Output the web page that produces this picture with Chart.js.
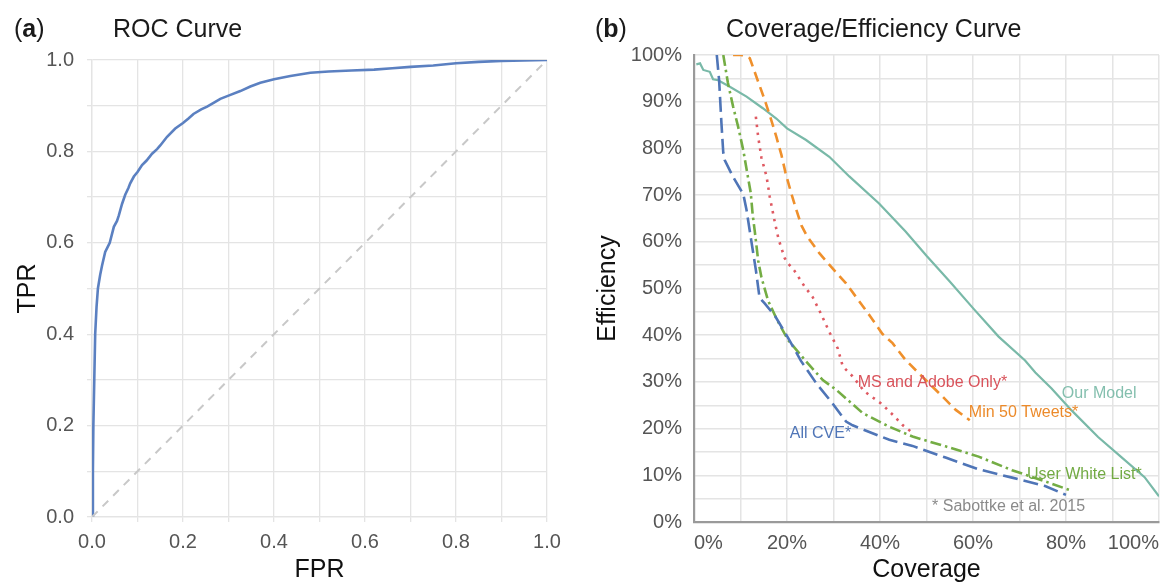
<!DOCTYPE html>
<html>
<head>
<meta charset="utf-8">
<script src="https://cdn.jsdelivr.net/npm/chart.js@4.4.1/dist/chart.umd.min.js"></script>
<style>
    html, body { margin: 0; padding: 0; background: #fff; }
    #wrap { position: relative; width: 1168px; height: 583px; overflow: hidden; }
    #rocCanvas { position: absolute; left: 0; top: 0; }
    #covCanvas { position: absolute; left: 580px; top: 0; }
</style>
</head>
<body>
<div id="wrap">
    <canvas id="rocCanvas" width="580" height="583"></canvas>
    <canvas id="covCanvas" width="588" height="583"></canvas>
</div>
<script>
// ---- (a) ROC curve ----
const rocFpr = [0, 0.002, 0.003, 0.005, 0.007, 0.010, 0.013, 0.018, 0.022, 0.029, 0.034, 0.039, 0.048, 0.055, 0.059,
    0.066, 0.073, 0.080, 0.084, 0.092, 0.10, 0.11, 0.12, 0.132, 0.143, 0.15, 0.165, 0.183, 0.20, 0.212, 0.223, 0.24,
    0.253, 0.27, 0.282, 0.30, 0.326, 0.348, 0.37, 0.40, 0.436, 0.48, 0.52, 0.57, 0.62, 0.66, 0.70, 0.75, 0.80, 0.85,
    0.90, 0.95, 1.0];
const rocTpr = [0, 0.10, 0.20, 0.30, 0.40, 0.46, 0.50, 0.53, 0.55, 0.58, 0.59, 0.60, 0.635, 0.648, 0.66,
    0.685, 0.705, 0.72, 0.73, 0.745, 0.755, 0.77, 0.78, 0.795, 0.805, 0.813, 0.832, 0.85, 0.862, 0.872, 0.882, 0.892,
    0.898, 0.908, 0.915, 0.922, 0.932, 0.942, 0.95, 0.958, 0.965, 0.972, 0.975, 0.977, 0.979, 0.982, 0.985, 0.988, 0.993, 0.996,
    0.998, 0.999, 1.0];
const chanceFpr = [0, 1];
const chanceTpr = [0, 1];
const rocTickLabels = ["0.0", "0.2", "0.4", "0.6", "0.8", "1.0"];

// ---- (b) coverage / efficiency (percent) ----
const ourModelCov = [0.5, 1.3, 2.0, 3.4, 4.1, 5.2, 7.7, 11.3, 14.8, 17.7, 20.0, 24.1, 29.1, 33.4, 39.8, 45.5, 50, 55, 60,
    65.5, 71.2, 73.4, 76.9, 81.2, 86.9, 91.9, 96.9, 100];
const ourModelEff = [98.0, 98.2, 96.8, 96.4, 94.8, 94.6, 93.2, 91.1, 88.6, 86.4, 84.3, 81.8, 78.2, 74.0, 68.2, 62.2, 57.0, 51.5, 45.8,
    39.7, 34.6, 32.0, 28.6, 23.9, 18.2, 13.9, 9.6, 5.5];

const allCveCov = [4.9, 5.4, 5.9, 6.3, 6.6, 8.4, 10.6, 11.3, 12.2, 13.3, 14.1, 15.2, 17.5, 20.2, 23.0, 26.3, 29.8, 32.7, 34.1,
    42.0, 47.0, 54.1, 61.2, 68.4, 75.5, 80.0];
const allCveEff = [100, 94.6, 85.4, 79.0, 77.5, 73.9, 70.2, 66.8, 61.0, 54.0, 48.0, 46.8, 44.0, 39.5, 34.5, 29.7, 25.4, 21.5, 20.7,
    17.6, 16.3, 13.8, 11.3, 9.5, 7.7, 5.8];

const whiteListCov = [6.3, 7.3, 8.4, 9.5, 10.6, 11.4, 12.2, 12.6, 13.1, 13.8, 14.5, 15.9, 17.7, 20.2, 24.0, 27.7, 30.6, 36.3,
    42.0, 47.0, 54.1, 61.2, 68.4, 75.5, 81.2];
const whiteListEff = [100, 94.0, 89.0, 84.6, 79.6, 75.0, 70.5, 66.0, 62.0, 56.0, 52.4, 47.5, 43.6, 39.0, 34.5, 30.4, 28.3, 23.3,
    20.4, 18.3, 16.2, 14.0, 11.1, 8.7, 6.7];

const msAdobeCov = [13.3, 13.8, 14.5, 15.6, 16.3, 17.3, 18.2, 19.5, 20.2, 21.6, 23.8, 25.5, 27.3, 29.1, 30.9, 32.0, 34.1, 36.6,
    40.2, 42.0, 43.4, 44.8, 46.6];
const msAdobeEff = [86.8, 82.5, 78.0, 74.0, 69.6, 64.6, 60.5, 56.5, 55.4, 53.8, 50.4, 48.2, 44.6, 40.7, 37.2, 33.3, 31.2, 28.0,
    25.4, 23.7, 22.3, 20.8, 19.4];

const min50Cov = [8.4, 10.2, 12.0, 13.4, 15.2, 16.6, 17.7, 18.8, 19.7, 20.8, 21.8, 23.1, 24.3, 27.0, 29.8, 32.7, 35.5, 38.0,
    40.5, 42.7, 45.5, 49.1, 52.7, 56.3, 59.3];
const min50Eff = [100, 100, 99.3, 95.4, 90.4, 86.1, 82.5, 78.6, 74.7, 70.8, 67.5, 63.5, 61.2, 57.5, 54.3, 51.1, 47.3, 43.9,
    40.3, 38.3, 34.7, 31.1, 27.6, 24.0, 21.8];

const covTickLabels = ["0%", "20%", "40%", "60%", "80%", "100%"];
const effTickLabels = ["0%", "10%", "20%", "30%", "40%", "50%", "60%", "70%", "80%", "90%", "100%"];

const FONT = '"Liberation Sans", Arial, Helvetica, sans-serif';
Chart.defaults.font.family = FONT;
Chart.defaults.color = "#555";

function pairs(xs, ys) {
    return xs.map((x, i) => ({ x: x, y: ys[i] }));
}

function labelFor(list, value) {
    const hit = list.find(l => Math.abs(parseFloat(l) - value) < 1e-6);
    return hit === undefined ? "" : hit;
}

// panel letter + title drawn on top of each canvas
const panelTitle = {
    id: "panelTitle",
    afterDraw(chart, args, opts) {
        const ctx = chart.ctx;
        ctx.save();
        ctx.textBaseline = "middle";
        ctx.fillStyle = "#1a1a1a";
        let x = opts.x;
        ctx.font = "25px " + FONT;
        ctx.fillText("(", x, opts.y);
        x += ctx.measureText("(").width;
        ctx.font = "bold 25px " + FONT;
        ctx.fillText(opts.letter, x, opts.y);
        x += ctx.measureText(opts.letter).width;
        ctx.font = "25px " + FONT;
        ctx.fillText(")", x, opts.y);
        ctx.fillText(opts.title, opts.titleX, opts.y);
        ctx.restore();
    }
};

// series names written next to the curves
const curveLabels = {
    id: "curveLabels",
    afterDatasetsDraw(chart, args, opts) {
        if (!opts.items) return;
        const ctx = chart.ctx;
        const xs = chart.scales.x;
        const ys = chart.scales.y;
        ctx.save();
        ctx.font = "16px " + FONT;
        ctx.textBaseline = "middle";
        opts.items.forEach(it => {
            ctx.fillStyle = it.color;
            ctx.fillText(it.text, xs.getPixelForValue(it.at[0]), ys.getPixelForValue(it.at[1]));
        });
        ctx.restore();
    }
};

const lightGrid = "#e4e4e4";

// (a)
new Chart(document.getElementById("rocCanvas"), {
    type: "scatter",
    data: {
        datasets: [
            {
                data: pairs(chanceFpr, chanceTpr),
                showLine: true,
                borderColor: "#c8c8c8",
                borderWidth: 2,
                borderDash: [8, 7],
                pointRadius: 0
            },
            {
                data: pairs(rocFpr, rocTpr),
                showLine: true,
                borderColor: "#5b80c1",
                borderWidth: 2.6,
                pointRadius: 0,
                tension: 0
            }
        ]
    },
    options: {
        responsive: false,
        animation: false,
        layout: { padding: { left: 0, right: 33, top: 60, bottom: 0 }, autoPadding: false },
        plugins: {
            legend: { display: false },
            tooltip: { enabled: false },
            panelTitle: { x: 14, y: 30, letter: "a", title: "ROC Curve", titleX: 113 }
        },
        scales: {
            x: {
                type: "linear",
                min: 0,
                max: 1,
                afterFit(scale) { scale.height = 66; },
                ticks: {
                    stepSize: 0.1,
                    autoSkip: false,
                    maxRotation: 0,
                    padding: 8,
                    font: { size: 20 },
                    color: "#555",
                    callback: v => labelFor(rocTickLabels, v)
                },
                grid: { color: lightGrid, lineWidth: 1.3, tickLength: 5, tickColor: lightGrid },
                border: { color: lightGrid, width: 1.3 },
                title: {
                    display: true,
                    text: "FPR",
                    color: "#111",
                    font: { size: 25, lineHeight: 1 },
                    padding: { top: 0, bottom: 0 }
                }
            },
            y: {
                type: "linear",
                min: 0,
                max: 1,
                afterFit(scale) { scale.width = 92; },
                ticks: {
                    stepSize: 0.1,
                    autoSkip: false,
                    padding: 13,
                    font: { size: 20 },
                    color: "#555",
                    callback: v => labelFor(rocTickLabels, v)
                },
                grid: { color: lightGrid, lineWidth: 1.3, tickLength: 5, tickColor: lightGrid },
                border: { color: lightGrid, width: 1.3 },
                title: {
                    display: true,
                    text: "TPR",
                    color: "#111",
                    font: { size: 25 },
                    padding: { top: 13, bottom: 0 }
                }
            }
        }
    },
    plugins: [panelTitle]
});

// (b)
function curve(xs, ys, color, dash, width) {
    return {
        data: pairs(xs, ys),
        showLine: true,
        borderColor: color,
        borderWidth: width,
        borderDash: dash,
        pointRadius: 0,
        tension: 0
    };
}

new Chart(document.getElementById("covCanvas"), {
    type: "scatter",
    data: {
        datasets: [
            curve(allCveCov, allCveEff, "#4f75b7", [15, 6], 2.6),
            curve(whiteListCov, whiteListEff, "#74ad44", [11, 4, 2.5, 4], 2.6),
            curve(msAdobeCov, msAdobeEff, "#df5a62", [2.5, 5.5], 2.6),
            curve(min50Cov, min50Eff, "#ef902c", [10, 6], 2.6),
            curve(ourModelCov, ourModelEff, "#79b9a8", [], 2.2)
        ]
    },
    options: {
        responsive: false,
        animation: false,
        layout: { padding: { left: 0, right: 7, top: 55, bottom: 0 }, autoPadding: false },
        plugins: {
            legend: { display: false },
            tooltip: { enabled: false },
            panelTitle: { x: 15, y: 30, letter: "b", title: "Coverage/Efficiency Curve", titleX: 146 },
            curveLabels: {
                items: [
                    { text: "MS and Adobe Only*", at: [35.2, 29.8], color: "#d9535b" },
                    { text: "Min 50 Tweets*", at: [59.1, 23.4], color: "#ec8a2a" },
                    { text: "Our Model", at: [79.1, 27.5], color: "#84bfae" },
                    { text: "User White List*", at: [71.6, 10.2], color: "#72aa43" },
                    { text: "All CVE*", at: [20.6, 18.9], color: "#4f75b7" },
                    { text: "* Sabottke et al. 2015", at: [51.2, 3.4], color: "#8a8a8a" }
                ]
            }
        },
        scales: {
            x: {
                type: "linear",
                min: 0,
                max: 100,
                afterFit(scale) { scale.height = 61; },
                ticks: {
                    stepSize: 10,
                    autoSkip: false,
                    maxRotation: 0,
                    align: "inner",
                    padding: 9,
                    font: { size: 20 },
                    color: "#555",
                    callback: v => labelFor(covTickLabels, v)
                },
                grid: { color: lightGrid, lineWidth: 1.5, drawTicks: false },
                border: { color: "#9a9a9a", width: 2.2 },
                title: {
                    display: true,
                    text: "Coverage",
                    color: "#111",
                    font: { size: 25, lineHeight: 1 },
                    padding: { top: 0, bottom: 0 }
                }
            },
            y: {
                type: "linear",
                min: 0,
                max: 100,
                afterFit(scale) { scale.width = 114; },
                ticks: {
                    stepSize: 5,
                    autoSkip: false,
                    padding: 12,
                    font: { size: 20 },
                    color: "#555",
                    callback: v => labelFor(effTickLabels, v)
                },
                grid: { color: lightGrid, lineWidth: 1.5, drawTicks: false },
                border: { color: "#9a9a9a", width: 2.2 },
                title: {
                    display: true,
                    text: "Efficiency",
                    color: "#111",
                    font: { size: 25 },
                    padding: { top: 13, bottom: 0 }
                }
            }
        }
    },
    plugins: [panelTitle, curveLabels]
});
</script>
</body>
</html>
